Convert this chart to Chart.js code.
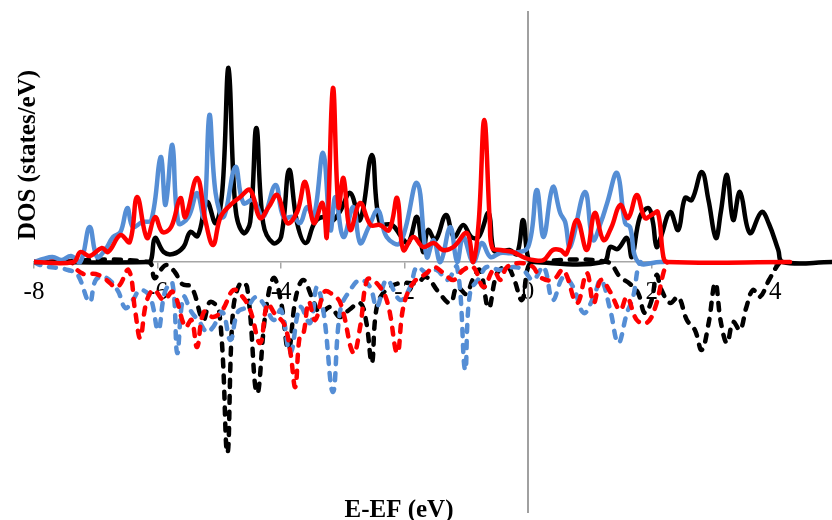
<!DOCTYPE html>
<html>
<head>
<meta charset="utf-8">
<script src="https://cdn.jsdelivr.net/npm/chart.js@4/dist/chart.umd.min.js"></script>
<style>
html,body{margin:0;padding:0;background:#fff;}
#wrap{width:832px;height:520px;}
</style>
</head>
<body>
<div id="wrap"><canvas id="c" width="832" height="520"></canvas></div>
<script>
// ---- Data (energy E-EF in eV, DOS in states/eV) ----
const xTicks = [-8, -6, -4, -2, 0, 2, 4];
const xTitle = "E-EF (eV)";
const yTitle = "DOS (states/eV)";

// spin-up, black
const blackUpE = [-8,-6.15,-6.1,-6.04,-5.9,-5.75,-5.58,-5.47,-5.35,-5.2,-5.06,-4.95,-4.85,-4.74,-4.61,-4.5,-4.4,-4.29,-4.13,-4.0,-3.87,-3.74,-3.6,-3.45,-3.3,-3.2,-3.05,-2.88,-2.72,-2.53,-2.4,-2.2,-2.05,-1.94,-1.8,-1.7,-1.62,-1.5,-1.33,-1.2,-1.05,-0.92,-0.8,-0.64,-0.56,-0.45,-0.3,-0.18,-0.08,0.0,0.1,1.22,1.33,1.45,1.6,1.68,1.81,1.95,2.02,2.08,2.15,2.3,2.43,2.54,2.65,2.81,2.92,3.04,3.12,3.22,3.32,3.43,3.59,3.78,3.9,4.05,4.12,4.92];
const blackUpV = [0,0,0.3,2.4,1.0,0.8,1.5,3.0,2.6,6.0,3.9,7.2,19.4,5.5,2.9,4.0,13.4,3.9,1.9,2.5,9.2,3.9,1.9,4.0,4.5,4.0,5.0,6.9,4.2,10.7,3.9,3.7,2.5,1.9,4.5,1.0,3.2,2.2,4.7,2.5,3.7,2.5,2.5,4.9,1.2,1.0,1.2,0.8,4.2,0.4,0,0,1.5,1.3,2.4,0.5,4.5,5.4,4.0,1.5,2.5,5.0,3.2,6.4,6.2,9.0,6.2,2.4,5.0,8.7,4.2,7.0,2.9,5.0,3.8,1.2,0,0];

// spin-up, blue
const blueUpE = [-8,-7.85,-7.7,-7.55,-7.4,-7.25,-7.1,-6.98,-6.85,-6.72,-6.6,-6.49,-6.4,-6.25,-6.1,-5.95,-5.87,-5.76,-5.66,-5.5,-5.36,-5.25,-5.16,-5.06,-4.93,-4.74,-4.61,-4.45,-4.29,-4.09,-3.96,-3.8,-3.69,-3.58,-3.47,-3.32,-3.2,-3.12,-2.99,-2.83,-2.72,-2.58,-2.43,-2.29,-2.07,-1.8,-1.64,-1.53,-1.42,-1.26,-1.15,-1.05,-0.89,-0.75,-0.61,-0.45,-0.24,0.0,0.14,0.25,0.4,0.52,0.6,0.68,0.92,1.05,1.18,1.28,1.44,1.57,1.65,1.78,2.14,2.2];
const blueUpV = [0,0.3,0.5,0.2,0.6,0,3.5,0.5,1.2,2.5,3.0,5.4,3.5,4.0,4.2,10.5,5.7,11.7,3.9,4.5,6.9,4.5,14.7,6.9,4.5,9.5,5.9,6.2,4.5,7.7,4.5,4.5,3.9,5.5,4.5,10.9,3.2,6.5,2.5,5.5,1.9,3.5,5.2,2.5,1.9,7.9,0.5,2.2,0,3.5,0,2.5,0,1.9,0.5,0.9,0.9,1.5,7.2,2.5,7.5,4.9,4.0,1.5,7.0,2.2,4.0,5.9,8.9,3.9,3.5,0,0,0];

// spin-up, red
const redUpE = [-8,-7.36,-7.25,-7.1,-6.9,-6.8,-6.6,-6.45,-6.33,-6.17,-6.04,-5.92,-5.78,-5.63,-5.55,-5.36,-5.22,-5.1,-4.98,-4.82,-4.66,-4.5,-4.34,-4.2,-4.06,-3.9,-3.74,-3.61,-3.47,-3.33,-3.26,-3.16,-3.07,-2.99,-2.88,-2.72,-2.55,-2.4,-2.25,-2.12,-2.02,-1.86,-1.7,-1.53,-1.38,-1.21,-0.99,-0.89,-0.8,-0.71,-0.62,-0.58,-0.45,-0.25,-0.05,0.08,0.25,0.4,0.52,0.62,0.79,0.95,1.08,1.22,1.35,1.49,1.62,1.76,1.89,2.0,2.1,2.19,2.25,4.24];
const redUpV = [0,0,1.0,0.6,1.4,1.0,2.7,2.0,6.5,2.4,4.5,3.0,3.5,6.4,4.5,8.4,4.0,1.7,4.5,5.7,6.5,7.2,4.4,5.5,6.7,3.9,5.0,8.0,3.9,5.9,2.5,17.4,5.5,8.4,3.2,5.9,3.7,3.7,3.2,6.4,1.2,2.5,1.5,1.9,1.2,1.5,2.9,0,4.0,14.2,4.0,1.4,1.2,1.0,0.4,0.2,0.2,1.2,1.2,0.8,4.2,1.2,4.9,2.2,3.5,5.7,4.4,6.7,4.4,4.7,5.0,0.5,0,0];

// spin-down, black
const blackDnE = [-8,-6.15,-6.05,-5.95,-5.85,-5.72,-5.6,-5.45,-5.26,-5.15,-5.0,-4.87,-4.78,-4.66,-4.55,-4.39,-4.25,-4.12,-4.0,-3.88,-3.76,-3.64,-3.5,-3.37,-3.2,-3.05,-2.9,-2.72,-2.62,-2.53,-2.45,-2.3,-2.07,-1.8,-1.65,-1.45,-1.26,-1.15,-1.0,-0.9,-0.78,-0.64,-0.5,-0.34,-0.24,-0.1,0.0,0.1,1.28,1.49,1.65,1.78,1.89,2.0,2.08,2.16,2.3,2.43,2.57,2.7,2.81,2.92,3.03,3.12,3.22,3.32,3.43,3.53,3.64,3.75,3.9,4.08,4.15];
const blackDnV = [0,0,-1.6,-0.8,-0.3,-1.0,-2.2,-2.5,-5.8,-4.0,-5.0,-19.1,-5.1,-2.1,-2.5,-13.1,-5.0,-1.6,-4.0,-8.8,-3.5,-1.8,-3.5,-5.1,-4.5,-5.5,-4.8,-4.1,-6.0,-10.1,-4.5,-2.8,-2.1,-2.1,-1.5,-3.0,-4.1,-2.5,-3.2,-1.8,-0.8,-4.6,-1.1,-0.5,-1.5,-3.8,-0.5,0,0,-1.5,-2.2,-3.1,-5.1,-3.8,-1.3,-2.8,-4.1,-3.5,-5.8,-6.8,-8.8,-6.2,-2.1,-6.0,-8.1,-6.0,-6.8,-4.6,-2.8,-3.5,-1.8,0,0];

// spin-down, blue
const blueDnE = [-8,-7.9,-7.75,-7.6,-7.45,-7.3,-7.1,-7.0,-6.85,-6.65,-6.52,-6.4,-6.28,-6.12,-5.99,-5.88,-5.76,-5.68,-5.58,-5.45,-5.32,-5.2,-5.1,-4.95,-4.82,-4.7,-4.55,-4.4,-4.25,-4.12,-4.0,-3.85,-3.69,-3.53,-3.42,-3.31,-3.16,-3.04,-2.88,-2.72,-2.56,-2.45,-2.29,-2.07,-1.91,-1.8,-1.64,-1.48,-1.31,-1.15,-1.02,-0.94,-0.78,-0.67,-0.45,-0.24,-0.08,0.08,0.25,0.4,0.57,0.73,0.9,1.06,1.18,1.33,1.46,1.6,1.7,1.78,1.82];
const blueDnV = [0,-0.3,-0.5,-0.6,-0.8,-1.2,-4.0,-1.8,-1.5,-2.8,-4.6,-3.8,-2.8,-3.5,-6.8,-3.0,-2.1,-9.1,-3.5,-5.0,-6.0,-7.0,-6.5,-5.0,-7.8,-5.0,-4.5,-3.5,-4.5,-5.8,-4.8,-9.1,-4.5,-6.1,-2.5,-5.1,-13.0,-4.8,-2.8,-1.8,-2.5,-4.5,-1.8,-3.8,-2.5,-0.5,-1.1,-0.8,-1.8,-0.5,-10.8,-3.1,-1.5,-0.5,-0.8,-0.5,-0.8,-1.8,-0.5,-3.8,-1.5,-2.5,-5.1,-3.5,-1.8,-4.8,-8.1,-5.1,-3.5,-0.5,0];

// spin-down, red
const redDnE = [-8,-7.4,-7.35,-7.2,-7.0,-6.85,-6.65,-6.47,-6.36,-6.28,-6.18,-6.06,-5.9,-5.75,-5.55,-5.45,-5.36,-5.25,-5.1,-4.95,-4.77,-4.62,-4.5,-4.34,-4.22,-4.1,-3.95,-3.85,-3.77,-3.7,-3.64,-3.55,-3.45,-3.3,-3.2,-3.04,-2.83,-2.72,-2.61,-2.5,-2.29,-2.12,-2.02,-1.86,-1.64,-1.53,-1.37,-1.21,-1.05,-0.89,-0.72,-0.56,-0.45,-0.34,-0.13,0.08,0.19,0.4,0.57,0.79,0.95,1.06,1.18,1.33,1.49,1.6,1.76,1.92,2.06,2.19,2.25];
const redDnV = [0,0,-0.5,-1.2,-1.2,-1.7,-2.5,-0.8,-5.0,-7.6,-4.0,-2.8,-3.8,-3.0,-6.5,-5.8,-8.5,-5.0,-5.5,-4.8,-2.8,-3.5,-4.8,-8.1,-4.2,-5.2,-6.2,-9.0,-12.5,-7.5,-7.2,-4.0,-5.8,-3.0,-3.1,-4.1,-9.1,-6.5,-1.8,-1.8,-3.8,-9.1,-4.5,-2.1,-1.1,-0.5,-1.1,-1.8,-0.8,-0.5,-2.5,-0.8,-1.8,-0.5,-0.1,-0.5,-1.5,-1.8,-0.8,-4.1,-1.1,-4.1,-1.8,-3.0,-4.8,-3.5,-5.8,-6.1,-4.5,-1.1,0];

// ---- Build chart ----
const BLACK = "#000000", BLUE = "#558ED5", RED = "#FF0000";
function pts(E, V) { return E.map((e, i) => ({ x: e, y: V[i] })); }
function solid(label, E, V, color) {
  return { label, data: pts(E, V), borderColor: color, backgroundColor: color,
           borderWidth: 4.5, pointRadius: 0, tension: 0.4, fill: false, borderJoinStyle: "round", borderCapStyle: "round" };
}
function dashed(label, E, V, color) {
  return { label, data: pts(E, V), borderColor: color, backgroundColor: color,
           borderWidth: 4.5, borderDash: [7, 9], borderCapStyle: "round", borderJoinStyle: "round",
           pointRadius: 0, tension: 0.4, fill: false };
}

const titlePlugin = {
  id: "axisTitles",
  afterDraw(chart) {
    const ctx = chart.ctx;
    ctx.save();
    ctx.fillStyle = "#000";
    ctx.font = 'bold 25px "Liberation Serif", "Times New Roman", serif';
    ctx.textAlign = "center";
    ctx.textBaseline = "alphabetic";
    ctx.fillText(xTitle, 399, 517);
    ctx.translate(35, 155);
    ctx.rotate(-Math.PI / 2);
    ctx.fillText(yTitle, 0, 0);
    ctx.restore();
  }
};

new Chart(document.getElementById("c"), {
  type: "line",
  data: {
    datasets: [
      solid("Red up", redUpE, redUpV, RED),
      solid("Blue up", blueUpE, blueUpV, BLUE),
      solid("Black up", blackUpE, blackUpV, BLACK),
      dashed("Red down", redDnE, redDnV, RED),
      dashed("Blue down", blueDnE, blueDnV, BLUE),
      dashed("Black down", blackDnE, blackDnV, BLACK)
    ]
  },
  options: {
    responsive: false,
    animation: false,
    devicePixelRatio: 1,
    layout: { padding: { left: 34, right: 0, top: 12, bottom: 8 } },
    plugins: { legend: { display: false }, tooltip: { enabled: false } },
    scales: {
      x: {
        type: "linear",
        min: -8, max: 4.92,
        position: { y: 0 },
        afterBuildTicks(scale) { scale.ticks = xTicks.map(v => ({ value: v })); },
        ticks: {
          color: "#000",
          font: { family: '"Liberation Serif", "Times New Roman", serif', size: 25 },
          padding: 9,
          maxRotation: 0,
          autoSkip: false
        },
        grid: { display: true, drawOnChartArea: false, drawTicks: true, tickLength: 6, color: "#a6a6a6", lineWidth: 1.5 },
        border: { display: true, color: "#a6a6a6", width: 1.5 }
      },
      y: {
        type: "linear",
        min: -25, max: 25,
        position: { x: 0 },
        ticks: { display: false },
        grid: { display: false },
        border: { display: true, color: "#a0a0a0", width: 2 }
      }
    }
  },
  plugins: [titlePlugin]
});
</script>
</body>
</html>
